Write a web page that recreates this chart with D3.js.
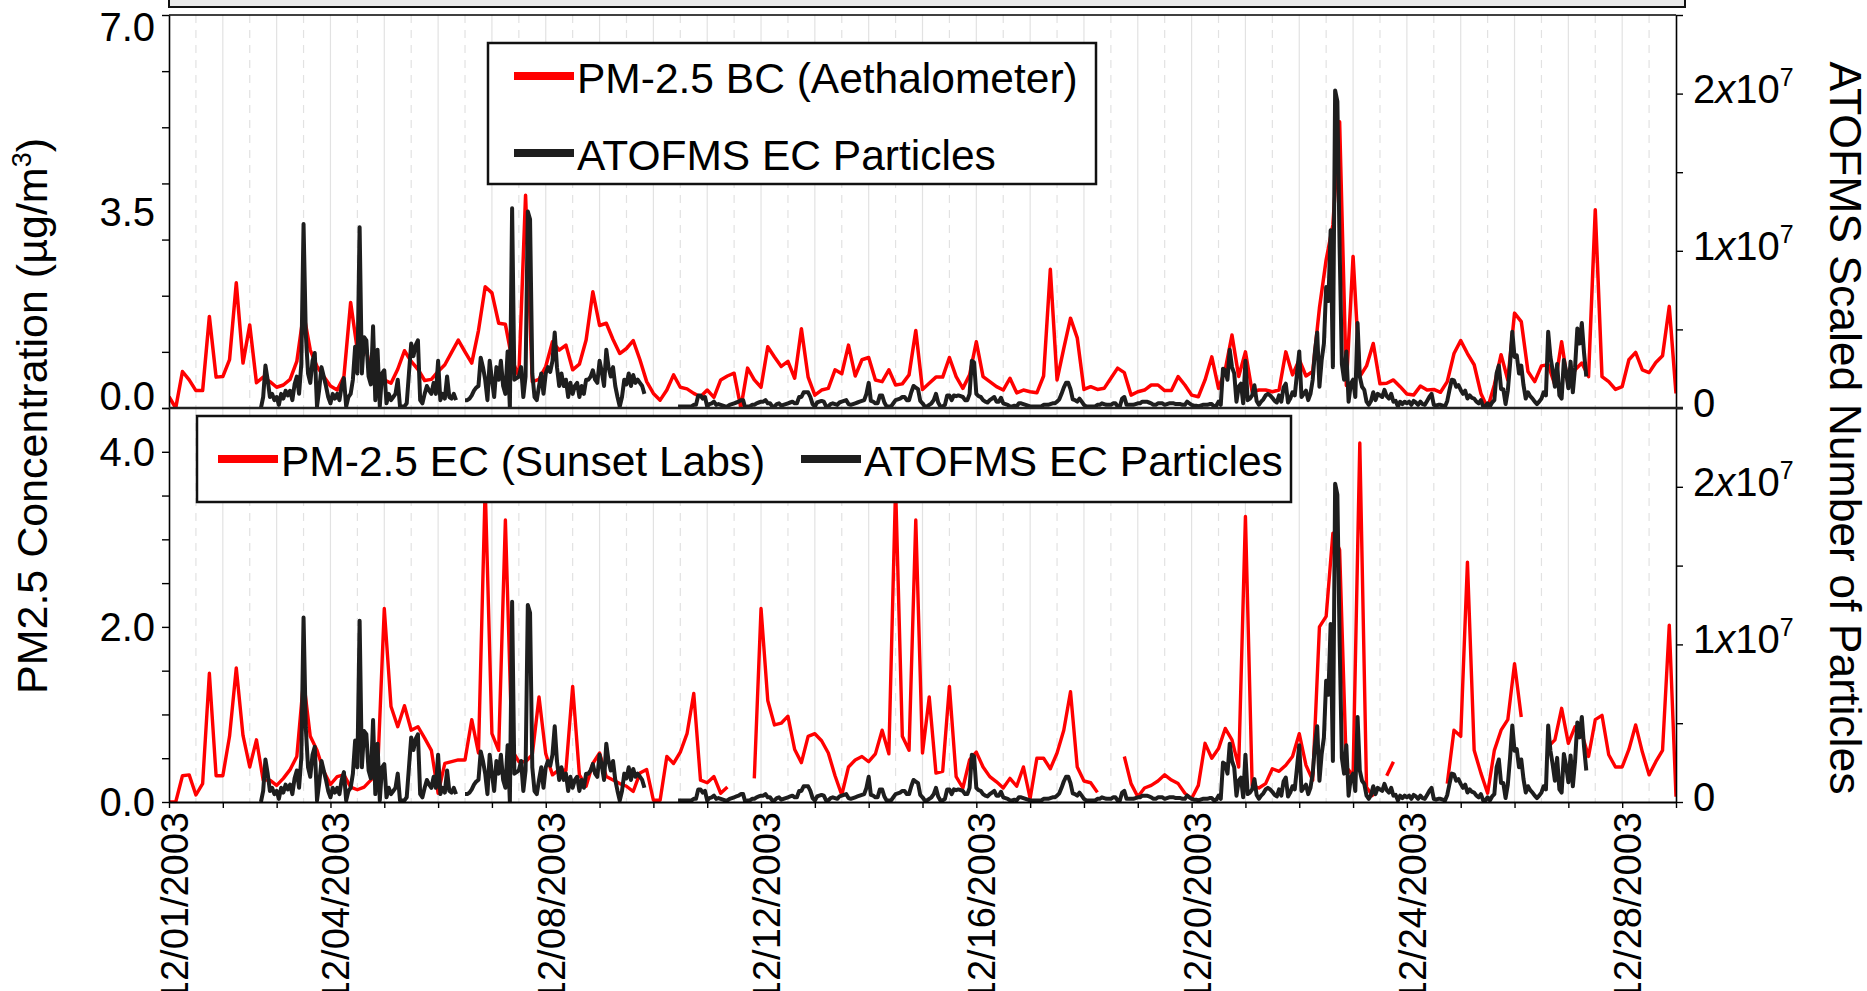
<!DOCTYPE html>
<html>
<head>
<meta charset="utf-8">
<script src="https://cdn.jsdelivr.net/npm/d3@7"></script>
<style>
  html, body { margin: 0; padding: 0; background: #fff; }
  svg { display: block; font-family: "Liberation Sans", Arial, Helvetica, sans-serif; }
</style>
</head>
<body>
<svg id="chart" width="1867" height="991"></svg>
<script>
// ---- Fresno, December 2003: black carbon / elemental carbon vs ATOFMS EC particle counts ----
const START = Date.UTC(2003, 11, 1);   // 12/01/2003 00:00
const HOUR = 3600e3;
const DAY = 24 * HOUR;

// PM-2.5 BC (Aethalometer), µg/m3, one value every 3 hours from 12/01 00:00
const bcStepHours = 3;
const bcValues = [
  0.20,0.00,0.65,0.50,0.31,0.31,1.63,0.55,0.56,0.86,
  2.23,0.80,1.48,0.45,0.55,0.47,0.37,0.41,0.51,0.83,
  1.69,1.03,0.74,0.56,0.39,0.32,0.56,1.88,1.03,1.24,
  0.63,0.59,0.50,0.44,0.69,1.02,0.83,0.69,0.49,0.51,
  0.65,0.77,0.99,1.21,1.00,0.80,1.38,2.16,2.05,1.51,
  1.49,0.86,0.56,3.79,0.47,0.51,0.74,1.18,1.03,1.12,
  0.68,0.78,1.21,2.07,1.47,1.51,1.22,0.97,1.06,1.20,
  0.86,0.47,0.26,0.14,0.32,0.59,0.37,
  0.34,0.26,0.20,0.32,0.19,0.50,0.57,0.62,0.00,0.71,
  0.50,0.37,1.09,0.91,0.74,0.83,0.53,1.41,0.55,0.23,
  0.32,0.35,0.68,0.61,1.12,0.57,0.86,0.90,0.50,0.47,
  0.68,0.41,0.43,0.59,1.38,0.33,0.44,0.55,0.55,0.90,
  0.56,0.35,0.59,1.18,0.56,0.47,0.38,0.32,0.53,0.27,
  0.32,0.29,0.27,0.57,2.47,0.50,1.06,1.60,1.25,0.33,
  0.38,0.33,0.35,0.53,0.71,0.63,0.23,0.29,0.32,0.41,
  0.41,0.31,0.31,0.56,0.41,0.23,0.20,
  0.50,0.91,0.35,0.68,1.30,0.56,1.00,0.29,0.32,0.32,
  0.29,0.32,1.00,0.59,0.86,0.57,0.65,1.78,2.64,3.26,
  5.10,0.40,2.70,0.56,0.75,1.15,0.43,0.44,0.50,0.38,
  0.25,0.23,0.39,0.32,0.33,0.28,0.47,0.97,1.20,0.97,
  0.77,0.26,0.00,0.41,0.95,0.50,1.69,1.54,0.65,0.47,
  0.75,0.77,0.41,1.18,0.38,0.68,0.80,0.56,3.53,0.56,
  0.47,0.33,0.38,0.86,0.99,0.68,0.63,0.81,0.93,1.81,0.26
];

// PM-2.5 EC (Sunset Labs), µg/m3, one value every 3 hours; null = no sample
const ecStepHours = 3;
const ecValues = [
  0.00,0.00,0.30,0.31,0.08,0.21,1.47,0.30,0.30,0.75,
  1.53,0.76,0.40,0.71,0.25,0.25,0.19,0.27,0.37,0.52,
  1.39,0.75,0.59,0.35,0.20,0.29,0.31,0.17,0.14,0.17,
  0.25,0.33,2.21,1.09,0.86,1.10,0.82,0.86,0.73,0.59,
  0.10,0.44,0.46,0.48,0.48,0.94,0.56,3.60,0.78,0.59,
  3.22,0.59,0.46,0.46,0.54,1.20,0.55,0.31,0.37,0.36,
  1.32,0.31,0.18,0.44,0.56,0.29,0.25,0.21,0.18,0.12,
  0.33,0.37,0.02,0.02,0.52,0.44,0.57,
  0.78,1.24,0.25,0.22,0.29,0.10,0.17,null,null,null,
  0.27,2.21,1.16,0.88,0.90,0.98,0.60,0.45,0.75,0.78,
  0.70,0.56,0.30,0.08,0.40,0.48,0.52,0.46,0.55,0.82,
  0.55,3.60,0.75,0.59,3.22,0.56,1.20,0.33,0.35,1.32,
  0.29,0.16,0.48,0.57,0.40,0.29,0.23,0.16,0.27,0.18,
  0.40,0.04,0.50,0.50,0.38,0.56,0.82,1.26,0.40,0.24,
  0.22,0.11,null,null,null,0.52,0.21,0.06,0.16,0.19,
  0.24,0.31,0.25,0.21,0.10,0.04,0.19,0.67,0.50,0.61,
  0.84,0.71,0.40,3.26,0.19,0.16,0.21,0.38,0.35,0.42,
  0.52,0.78,0.42,0.25,2.00,2.12,3.07,2.88,0.40,0.30,
  4.10,0.17,0.06,null,0.30,0.46,null,null,null,null,
  null,null,null,0.21,0.82,0.75,2.74,0.59,0.33,0.10,
  0.59,0.82,0.94,1.58,0.97,null,null,null,0.63,0.71,
  1.07,0.67,0.86,0.78,0.52,0.94,0.99,0.54,0.40,0.40,
  0.60,0.88,0.57,0.31,0.46,0.59,2.02,0.06
];

// ATOFMS scaled number of EC particles, millions, hourly from 12/01 00:00; null = no data
const atofmsStepHours = 1;
const atofmsMillions = [
  null,null,null,null,null,null,null,null,null,null,
  null,null,null,null,null,null,null,null,null,null,
  null,null,null,null,null,null,null,null,null,null,
  null,null,null,null,null,null,null,null,null,null,
  null,0.0,0.7,2.7,1.8,0.7,0.9,0.5,0.7,0.2,
  0.9,0.6,1.1,0.8,1.1,0.5,1.5,2.0,0.9,2.8,
  11.7,4.7,2.2,1.6,3.0,3.5,0.1,1.2,2.6,2.0,
  1.4,0.7,0.3,0.9,0.6,0.9,0.5,1.4,1.9,0.1,
  0.7,0.9,1.8,3.9,2.2,11.5,2.2,4.5,4.3,2.0,
  1.5,5.2,0.5,3.7,0.1,2.2,2.4,0.3,0.9,0.5,
  0.7,0.9,1.8,0.1,0.1,0.1,0.3,2.2,4.1,3.3,
  4.0,4.3,0.5,0.3,0.9,1.4,1.1,0.9,1.6,0.9,
  3.0,0.5,0.9,0.6,2.0,0.7,0.6,0.9,0.5,null,
  null,null,0.5,0.5,0.6,0.8,1.1,1.3,1.4,3.2,
  2.6,1.8,0.5,3.0,1.8,0.7,2.6,1.8,3.0,1.4,
  0.9,3.6,0.0,12.7,1.8,1.9,2.0,2.6,0.7,2.0,
  12.5,12.0,2.2,0.7,0.5,1.4,2.2,0.9,2.2,2.6,
  2.3,3.0,4.8,2.6,1.4,2.2,1.4,1.8,0.7,1.6,
  0.9,1.4,1.6,0.7,1.4,0.9,1.8,1.8,2.0,2.4,
  1.8,1.6,3.0,2.3,1.4,3.7,2.6,2.0,2.6,1.4,
  0.7,0.1,0.7,1.8,1.5,2.2,1.4,2.1,1.6,1.8,
  1.6,1.4,0.9,null,null,null,null,null,null,null,
  null,null,null,null,null,null,null,0.1,0.1,0.1,
  0.1,0.1,0.1,0.1,0.2,0.2,0.8,0.8,0.6,0.7,
  0.1,0.25,0.3,0.4,0.2,0.25,0.2,0.15,0.1,0.1,
  0.2,0.25,0.3,0.35,0.4,0.5,0.5,0.0,0.1,0.1,
  0.2,0.2,0.3,0.35,0.4,0.4,0.5,0.3,0.3,0.1,
  0.1,0.25,0.3,0.15,0.2,0.25,0.3,0.35,0.4,0.3,
  0.3,0.7,0.7,1.0,1.0,1.0,0.7,0.25,0.1,0.35,
  0.4,0.45,0.4,0.1,0.1,0.25,0.3,0.25,0.2,0.35,
  0.4,0.45,0.5,0.25,0.2,0.25,0.3,0.35,0.4,0.45,
  0.5,0.9,1.6,0.45,0.4,0.3,0.3,0.8,0.8,0.35,
  0.1,0.1,0.1,0.3,0.5,0.55,0.6,0.7,0.7,0.5,
  0.5,1.0,1.4,1.3,1.2,0.45,0.3,0.1,0.1,0.2,
  0.3,0.5,0.9,0.35,0.1,0.1,0.2,0.8,0.8,0.5,
  0.8,0.75,0.8,0.75,0.7,0.5,0.5,0.9,3.0,2.9,
  0.9,0.75,0.7,0.5,0.4,0.35,0.5,0.6,0.7,0.4,
  0.4,0.65,0.3,0.25,0.2,0.1,0.1,0.15,0.1,0.3,
  0.3,0.25,0.2,0.15,0.1,0.1,0.1,0.1,0.1,0.1,
  0.2,0.2,0.2,0.25,0.3,0.3,0.4,0.55,0.9,1.3,
  1.6,1.6,1.2,0.55,0.5,0.4,0.6,0.4,0.2,0.1,
  0.1,0.1,0.1,0.1,0.2,0.2,0.3,0.25,0.2,0.2,
  0.2,0.3,0.3,0.1,0.1,0.6,0.7,0.2,0.2,0.2,
  0.2,0.25,0.3,0.3,0.4,0.4,0.4,0.35,0.3,0.2,
  0.2,0.3,0.3,0.3,0.2,0.25,0.3,0.3,0.3,0.25,
  0.25,0.25,0.2,0.2,0.4,0.3,0.2,0.15,0.15,0.1,
  0.15,0.2,0.2,0.2,0.25,0.25,0.1,0.15,0.4,0.2,
  2.5,2.4,1.8,3.7,2.6,2.2,0.4,1.35,1.55,0.3,
  3.0,0.5,0.6,0.8,1.45,0.45,0.2,0.4,0.55,0.8,
  0.9,0.8,0.65,0.45,0.35,0.8,0.4,1.3,1.55,0.35,
  0.6,1.0,0.8,2.2,3.6,0.7,0.9,1.1,0.5,0.9,
  1.8,3.6,4.8,1.35,3.05,4.1,7.7,6.8,11.3,2.6,
  20.2,19.5,10.2,2.8,1.8,3.6,0.4,1.55,1.8,0.7,
  5.4,2.0,1.35,1.15,0.4,0.2,0.45,1.0,0.5,0.9,
  0.8,0.7,1.15,0.75,0.6,0.9,0.4,0.45,0.1,0.4,
  0.25,0.4,0.3,0.4,0.2,0.45,0.35,0.2,0.4,0.25,
  0.2,0.45,0.7,0.9,0.2,0.15,0.2,0.2,0.15,0.1,
  0.45,1.15,1.8,1.75,1.35,1.45,1.15,0.9,1.1,0.6,
  0.8,0.65,0.6,0.4,0.3,0.5,0.1,0.1,0.3,0.1,
  0.35,0.5,2.2,2.7,1.2,1.2,0.25,1.1,2.8,4.85,
  3.25,3.35,2.2,2.7,1.45,0.6,1.0,0.75,0.6,0.4,
  0.25,0.4,0.6,1.0,0.8,4.85,3.25,2.4,1.35,2.8,
  0.8,0.6,3.05,2.3,1.25,2.95,1.0,2.6,5.05,4.1,
  5.4,3.5,2.0
];
const atofmsUnit = 1e6;

// Axis tick values and labels
const labelledDays = [1, 4, 8, 12, 16, 20, 24, 28];
const topLeftTicks = [0, 1, 2, 3, 4, 5, 6, 7];
const topLeftLabels = [0, 3.5, 7];
const bottomLeftTicks = [0, 0.5, 1, 1.5, 2, 2.5, 3, 3.5, 4, 4.5];
const bottomLeftLabels = [0, 2, 4];
const rightTicks = [0, 5e6, 1e7, 1.5e7, 2e7, 2.5e7];
const rightLabels = [0, 1e7, 2e7];

const legendTop = ["PM-2.5 BC (Aethalometer)", "ATOFMS EC Particles"];
const legendBottom = ["PM-2.5 EC (Sunset Labs)", "ATOFMS EC Particles"];

// ---- layout ----
const RED = "#ff0000", BLACK = "#1e1e1e";
const plotLeft = 169, plotRight = 1676;
const panels = {
  top:    { y0: 15,  y1: 408 },
  bottom: { y0: 408, y1: 802 }
};

const svg = d3.select("#chart");

const x = d3.scaleUtc()
  .domain([new Date(START), new Date(START + 28 * DAY)])
  .range([plotLeft, plotRight]);

const yTop = d3.scaleLinear().domain([0, 7]).range([panels.top.y1, panels.top.y0]);
const yTopR = d3.scaleLinear().domain([0, 2.5e7]).range([panels.top.y1, panels.top.y0]);
const yBot = d3.scaleLinear().domain([0, 4.5]).range([panels.bottom.y1, panels.bottom.y0]);
const yBotR = d3.scaleLinear().domain([0, 2.5e7]).range([panels.bottom.y1, panels.bottom.y0]);

function toSeries(values, stepHours, unit = 1) {
  return values.map((v, i) => ({
    t: new Date(START + i * stepHours * HOUR),
    v: v == null ? null : v * unit
  }));
}
const bcSeries = toSeries(bcValues, bcStepHours);
const ecSeries = toSeries(ecValues, ecStepHours);
const atofmsSeries = toSeries(atofmsMillions, atofmsStepHours, atofmsUnit);

// Header strip above the plots
svg.append("rect")
  .attr("x", plotLeft).attr("y", -12)
  .attr("width", 1685 - plotLeft).attr("height", 19)
  .attr("fill", "#e9e9e9").attr("stroke", "#111").attr("stroke-width", 2);

// Clip paths
const defs = svg.append("defs");
Object.entries(panels).forEach(([key, p]) => {
  defs.append("clipPath").attr("id", "clip-" + key)
    .append("rect")
    .attr("x", plotLeft).attr("y", p.y0)
    .attr("width", plotRight - plotLeft).attr("height", p.y1 - p.y0);
});

// Vertical grid: whole days solid, half days dashed
const gridTimes = d3.utcHour.every(12).range(new Date(START + 12 * HOUR), new Date(START + 28 * DAY));
Object.values(panels).forEach(p => {
  svg.append("g").selectAll("line")
    .data(gridTimes)
    .join("line")
    .attr("x1", d => x(d)).attr("x2", d => x(d))
    .attr("y1", p.y0).attr("y2", p.y1)
    .attr("stroke", "#e2e2e2")
    .attr("stroke-width", 1.2)
    .attr("stroke-dasharray", d => d.getUTCHours() === 12 ? "8,7" : null);
});

function drawLine(series, yScale, color, width, clipKey) {
  const line = d3.line()
    .defined(d => d.v != null)
    .x(d => x(d.t))
    .y(d => yScale(d.v));
  svg.append("path")
    .datum(series)
    .attr("clip-path", `url(#clip-${clipKey})`)
    .attr("fill", "none")
    .attr("stroke", color)
    .attr("stroke-width", width)
    .attr("stroke-linejoin", "round")
    .attr("d", line);
}

drawLine(bcSeries, yTop, RED, 3.5, "top");
drawLine(atofmsSeries, yTopR, BLACK, 4, "top");
drawLine(ecSeries, yBot, RED, 3.4, "bottom");
drawLine(atofmsSeries, yBotR, BLACK, 4, "bottom");

// Legends
function drawLegend(box, items) {
  const g = svg.append("g");
  g.append("rect")
    .attr("x", box.x).attr("y", box.y).attr("width", box.w).attr("height", box.h)
    .attr("fill", "#fff").attr("stroke", "#111").attr("stroke-width", 2.5);
  items.forEach(it => {
    g.append("line")
      .attr("x1", it.x).attr("x2", it.x + 60)
      .attr("y1", it.y).attr("y2", it.y)
      .attr("stroke", it.color).attr("stroke-width", 8);
    g.append("text")
      .attr("x", it.x + 63).attr("y", it.y + 17)
      .attr("font-size", 42.5).attr("fill", "#000")
      .text(it.label);
  });
}
drawLegend({ x: 488, y: 43, w: 608, h: 141 }, [
  { x: 514, y: 76,  color: RED,   label: legendTop[0] },
  { x: 514, y: 153, color: BLACK, label: legendTop[1] }
]);
drawLegend({ x: 197, y: 416, w: 1094, h: 86 }, [
  { x: 218, y: 459, color: RED,   label: legendBottom[0] },
  { x: 801, y: 459, color: BLACK, label: legendBottom[1] }
]);

// Left axes
function leftAxis(scale, ticks, labels, fmt, labelFloor) {
  const g = svg.append("g").attr("transform", `translate(${plotLeft},0)`)
    .call(d3.axisLeft(scale).tickValues(ticks).tickSize(7).tickSizeOuter(0).tickFormat(""));
  g.select(".domain").attr("stroke", "#000").attr("stroke-width", 1.6);
  g.selectAll(".tick line").attr("stroke", "#000").attr("stroke-width", 1.4);
  const [r0, r1] = scale.range();
  const top = Math.min(r0, r1);
  svg.append("g").selectAll("text")
    .data(labels)
    .join("text")
    .attr("x", 155)
    .attr("y", d => Math.max(top + 12, Math.min(labelFloor - 12, scale(d))) + 14)
    .attr("text-anchor", "end")
    .attr("font-size", 40)
    .attr("fill", "#000")
    .text(fmt);
}
leftAxis(yTop, topLeftTicks, topLeftLabels, d3.format(".1f"), panels.top.y1);
leftAxis(yBot, bottomLeftTicks, bottomLeftLabels, d3.format(".1f"), 991);

// Right axes
function rightAxis(scale) {
  const g = svg.append("g").attr("transform", `translate(${plotRight},0)`)
    .call(d3.axisRight(scale).tickValues(rightTicks).tickSize(7).tickSizeOuter(0).tickFormat(""));
  g.select(".domain").attr("stroke", "#000").attr("stroke-width", 1.6);
  g.selectAll(".tick line").attr("stroke", "#000").attr("stroke-width", 1.4);
  const lab = svg.append("g").selectAll("text")
    .data(rightLabels)
    .join("text")
    .attr("x", 1693)
    .attr("y", d => scale(d) + 9)
    .attr("font-size", 40)
    .attr("fill", "#000");
  lab.each(function (d) {
    const t = d3.select(this);
    if (d === 0) { t.text("0"); return; }
    t.append("tspan").text(d / 1e7);
    t.append("tspan").attr("font-style", "italic").text("x");
    t.append("tspan").text("10");
    t.append("tspan").attr("font-size", 25).attr("dy", -17).text("7");
  });
}
rightAxis(yTopR);
rightAxis(yBotR);

// Top frame and the shared boundary between the panels
svg.append("line")
  .attr("x1", plotLeft).attr("x2", plotRight)
  .attr("y1", panels.top.y0).attr("y2", panels.top.y0)
  .attr("stroke", "#000").attr("stroke-width", 1.6);
svg.append("line")
  .attr("x1", plotLeft).attr("x2", plotRight + 7)
  .attr("y1", panels.top.y1).attr("y2", panels.top.y1)
  .attr("stroke", "#222").attr("stroke-width", 2.5);

// Bottom time axis: a tick per day, dates every few days
const dayTicks = d3.utcDay.range(new Date(START), new Date(START + 28 * DAY + 1));
const xAxisG = svg.append("g").attr("transform", `translate(0,${panels.bottom.y1})`)
  .call(d3.axisBottom(x).tickValues(dayTicks).tickSize(6).tickSizeOuter(0).tickFormat(""));
xAxisG.select(".domain").attr("stroke", "#000").attr("stroke-width", 2);
xAxisG.selectAll(".tick line").attr("stroke", "#000").attr("stroke-width", 1.4);

const labelDates = labelledDays.map(d => new Date(Date.UTC(2003, 11, d)));
const fmtDate = d3.utcFormat("%m/%d/%Y");
svg.append("g").selectAll("text")
  .data(labelDates)
  .join("text")
  .attr("transform", d => `translate(${x(d)},${panels.bottom.y1 + 10}) rotate(-90)`)
  .attr("text-anchor", "end")
  .attr("dy", "0.5em")
  .attr("font-size", 38)
  .attr("fill", "#000")
  .text(fmtDate);

// Axis titles
const yTitle = svg.append("text")
  .attr("transform", "translate(47,416) rotate(-90)")
  .attr("text-anchor", "middle")
  .attr("font-size", 43)
  .attr("fill", "#000");
yTitle.append("tspan").text("PM2.5 Concentration (µg/m");
yTitle.append("tspan").attr("font-size", 27).attr("dy", -16).text("3");
yTitle.append("tspan").attr("dy", 16).text(")");

svg.append("text")
  .attr("transform", "translate(1830,428) rotate(90)")
  .attr("text-anchor", "middle")
  .attr("font-size", 44.5)
  .attr("fill", "#000")
  .text("ATOFMS Scaled Number of Particles");
</script>
</body>
</html>
